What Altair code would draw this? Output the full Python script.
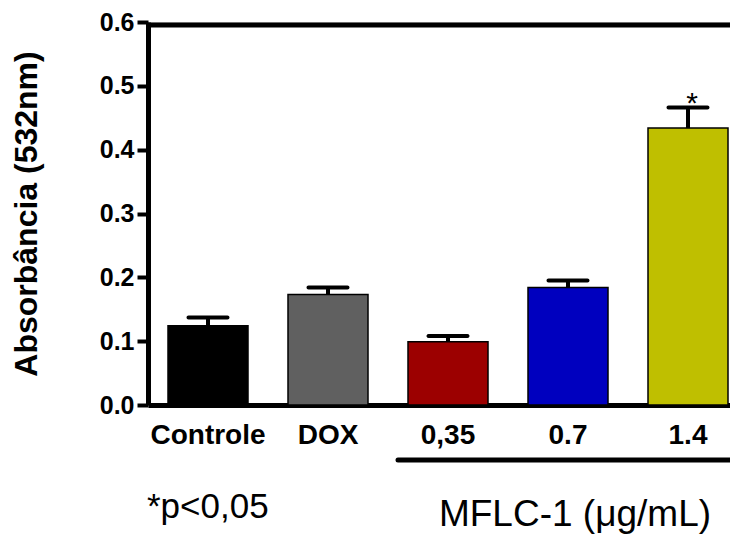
import altair as alt
import pandas as pd

categories = ["Controle", "DOX", "0,35", "0.7", "1.4"]
means = [0.124, 0.173, 0.099, 0.184, 0.434]
uppers = [0.137, 0.184, 0.108, 0.195, 0.466]
colors = ["#000000", "#606060", "#9c0000", "#0000bf", "#bfbf00"]
sig_labels = ["", "", "", "", "*"]
y_ticks = [0.0, 0.1, 0.2, 0.3, 0.4, 0.5, 0.6]
note_text = ["*p<0,05"]
group_text = ["MFLC-1 (\u03bcg/mL)"]

df = pd.DataFrame({"cat": categories, "mean": means, "upper": uppers,
                   "color": colors, "sig": sig_labels})

FONT = "Liberation Sans"
W, H = 582, 383
XR = 600  # band range (plot runs past the right edge, as in the reference)

x_scale = alt.Scale(paddingInner=1 / 3, paddingOuter=1 / 6, range=[0, XR])
x_enc = alt.X(
    "cat:N", sort=categories, scale=x_scale,
    axis=alt.Axis(title=None, labelAngle=0, ticks=False, labelPadding=38,
                  labelBaseline="alphabetic", labelFontSize=28,
                  labelFontWeight="bold", labelFont=FONT, labelColor="black",
                  domainWidth=5, domainColor="black"),
)
y_scale = alt.Scale(domain=[0, 0.6], nice=False)
y_enc = alt.Y(
    "mean:Q", scale=y_scale,
    axis=alt.Axis(values=y_ticks, format=".1f", title="Absorbância (532nm)",
                  grid=False, tickSize=11, tickWidth=4, tickColor="black",
                  domainWidth=5, domainColor="black", labelFontSize=25,
                  labelFontWeight="bold", labelFont=FONT, labelColor="black",
                  labelPadding=3, titleFontSize=32, titleFontWeight="bold",
                  titleFont=FONT, titleColor="black", titleX=-112,
                  titleY=H / 2, titleAngle=270, titleAlign="center",
                  titleBaseline="alphabetic"),
)

base = alt.Chart(df)
xs = alt.X("cat:N", sort=categories, scale=x_scale)

bars = base.mark_bar(stroke="black", strokeWidth=1.5).encode(
    x=x_enc, y=y_enc, color=alt.Color("color:N", scale=None)
)
stems = base.mark_rule(strokeWidth=4, color="black").encode(
    x=xs, y=alt.Y("mean:Q", scale=y_scale), y2="upper:Q"
)
caps = base.mark_tick(thickness=4, size=43, color="black", cornerRadius=2, opacity=1).encode(
    x=xs, y=alt.Y("upper:Q", scale=y_scale)
)
stars = base.mark_text(fontSize=30, font=FONT, baseline="alphabetic", dx=4, dy=5,
                       color="black").encode(
    x=xs, y=alt.Y("upper:Q", scale=y_scale), text="sig:N"
)

frame_df = pd.DataFrame({"top": [0.6]})
top_line = alt.Chart(frame_df).mark_rule(strokeWidth=5, color="black", yOffset=3).encode(
    y=alt.Y("top:Q", scale=y_scale), x=alt.value(0), x2=alt.value(XR)
)

bracket = alt.Chart(frame_df).mark_rule(strokeWidth=5, color="black", strokeCap="round").encode(
    x=alt.value(250), x2=alt.value(XR), y=alt.value(438)
)

note = alt.Chart(pd.DataFrame({"t": note_text})).mark_text(
    fontSize=35, font=FONT, align="left", baseline="alphabetic", color="black"
).encode(x=alt.value(-1), y=alt.value(496), text="t:N")

group_lbl = alt.Chart(pd.DataFrame({"t": group_text})).mark_text(
    fontSize=37, font=FONT, align="center", baseline="alphabetic", color="black"
).encode(x=alt.value(427), y=alt.value(504), text="t:N")

chart = alt.layer(bars, stems, caps, stars, top_line, bracket, note, group_lbl).properties(
    width=W, height=H,
    autosize=alt.AutoSizeParams(type="none"),
    padding={"left": 140, "top": 14, "right": 0, "bottom": 132},
).configure_view(stroke=None).configure(background="white")

chart.save("out.html", embed_options={"renderer": "svg", "actions": False})
